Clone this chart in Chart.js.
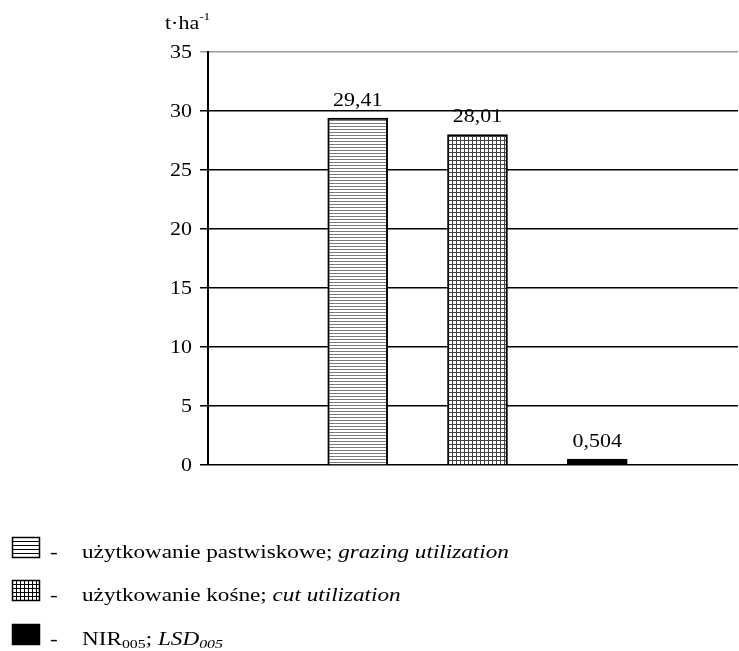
<!DOCTYPE html>
<html>
<head>
<meta charset="utf-8">
<script src="https://cdn.jsdelivr.net/npm/chart.js@4/dist/chart.umd.min.js"></script>
<style>
    body { margin: 0; background: #fff; }
    #chartBox { position: relative; width: 739px; height: 651px; }
</style>
</head>
<body>
<div id="chartBox"><canvas id="chart"></canvas></div>
<script>
const categories = ['grazing utilization', 'cut utilization', 'LSD005']
const positions = [1.25, 2.25, 3.25]
const values = [29.41, 28.01, 0.504]
const yTicks = [0, 5, 10, 15, 20, 25, 30, 35]
const legendItems = [
    [['użytkowanie pastwiskowe; ', ''], ['grazing utilization', 'i']],
    [['użytkowanie kośne; ', ''], ['cut utilization', 'i']],
    [['NIR', ''], ['005', 's'], ['; ', ''], ['LSD', 'i'], ['005', 'is']]
]

const serif = '"Liberation Serif", "Times New Roman", Tinos, serif'
const stretch = 1.22   // the original text is a bit wide

// hatch fills
function stripes(step, color) {
    const c = document.createElement('canvas')
    c.width = step; c.height = step
    const g = c.getContext('2d')
    g.fillStyle = '#fff'; g.fillRect(0, 0, step, step)
    g.fillStyle = color; g.fillRect(0, 0, step, 1)
    return c
}
function grid(step, color) {
    const c = document.createElement('canvas')
    c.width = step; c.height = step
    const g = c.getContext('2d')
    g.fillStyle = '#fff'; g.fillRect(0, 0, step, step)
    g.fillStyle = color
    g.fillRect(0, 0, step, 1)
    g.fillRect(0, 0, 1, step)
    return c
}

function wideText(c, text, x, y, size, align, style) {
    c.save()
    c.font = (style || '') + ' ' + size + 'px ' + serif
    c.translate(x, y)
    c.scale(stretch, 1)
    c.textAlign = align
    c.textBaseline = 'alphabetic'
    c.fillText(text, 0, 0)
    const w = c.measureText(text).width * stretch
    c.restore()
    return w
}

const ctx = document.getElementById('chart').getContext('2d')
const fills = [
    ctx.createPattern(stripes(3, '#7a7a7a'), 'repeat'),
    ctx.createPattern(grid(4, '#444'), 'repeat'),
    '#000'
]

const textLayer = {
    id: 'textLayer',
    afterDraw(chart) {
        const c = chart.ctx
        const y = chart.scales.y
        c.save()
        c.fillStyle = '#000'

        // y tick labels
        yTicks.forEach(v => {
            wideText(c, String(v), 192, y.getPixelForValue(v) + 6, 18, 'right')
        })

        // unit
        const w = wideText(c, 't·ha', 165, 29, 18, 'left')
        wideText(c, '-1', 165 + w, 20, 11, 'left')

        // values over bars
        chart.getDatasetMeta(0).data.forEach((bar, i) => {
            wideText(c, String(values[i]).replace('.', ','), bar.x, bar.y - 12, 18, 'center')
        })

        // legend
        const rows = [558, 601, 645]
        legendItems.forEach((parts, i) => {
            const base = rows[i]
            const top = base - 21
            c.fillStyle = '#fff'
            c.fillRect(12, top, 28, 21)
            c.fillStyle = '#000'
            if (i === 0) {
                for (let k = 4; k < 21; k += 4) c.fillRect(12, top + k, 28, 1)
            } else if (i === 1) {
                for (let k = 4; k < 21; k += 4) c.fillRect(12, top + k, 28, 1)
                for (let k = 4; k < 28; k += 4) c.fillRect(12 + k, top, 1, 21)
            } else {
                c.fillRect(12, top, 28, 21)
            }
            c.strokeStyle = '#000'
            c.lineWidth = 1.5
            c.strokeRect(12.5, top + 0.5, 27, 20)

            wideText(c, '-', 50, base, 19, 'left')
            let x = 82
            parts.forEach(([t, s]) => {
                const italic = s.includes('i') ? 'italic' : ''
                const sub = s.includes('s')
                x += wideText(c, t, x, sub ? base + 3 : base, sub ? 13 : 19, 'left', italic)
            })
        })
        c.restore()
    }
}

new Chart(ctx, {
    type: 'bar',
    data: {
        labels: categories,
        datasets: [{
            data: positions.map((x, i) => ({ x: x, y: values[i] })),
            backgroundColor: fills,
            borderColor: '#000',
            borderWidth: 2,
            barThickness: 60,
            borderSkipped: 'bottom'
        }]
    },
    options: {
        responsive: true,
        maintainAspectRatio: false,
        animation: false,
        layout: { padding: { top: 52, right: 1, bottom: 186, left: 0 } },
        plugins: {
            legend: { display: false },
            tooltip: { enabled: false }
        },
        scales: {
            x: {
                type: 'linear',
                display: false,
                offset: false,
                min: 0,
                max: 4.425
            },
            y: {
                min: 0,
                max: 35,
                afterFit: (scale) => { scale.width = 208 },
                afterBuildTicks: (scale) => { scale.ticks = yTicks.map(v => ({ value: v })) },
                border: { display: true, color: '#000', width: 2 },
                grid: {
                    color: (c) => c.tick && c.tick.value === 35 ? '#9a9a9a' : '#000',
                    lineWidth: 1.5,
                    tickLength: 8,
                    drawTicks: true
                },
                ticks: { display: false }
            }
        }
    },
    plugins: [textLayer]
})
</script>
</body>
</html>
